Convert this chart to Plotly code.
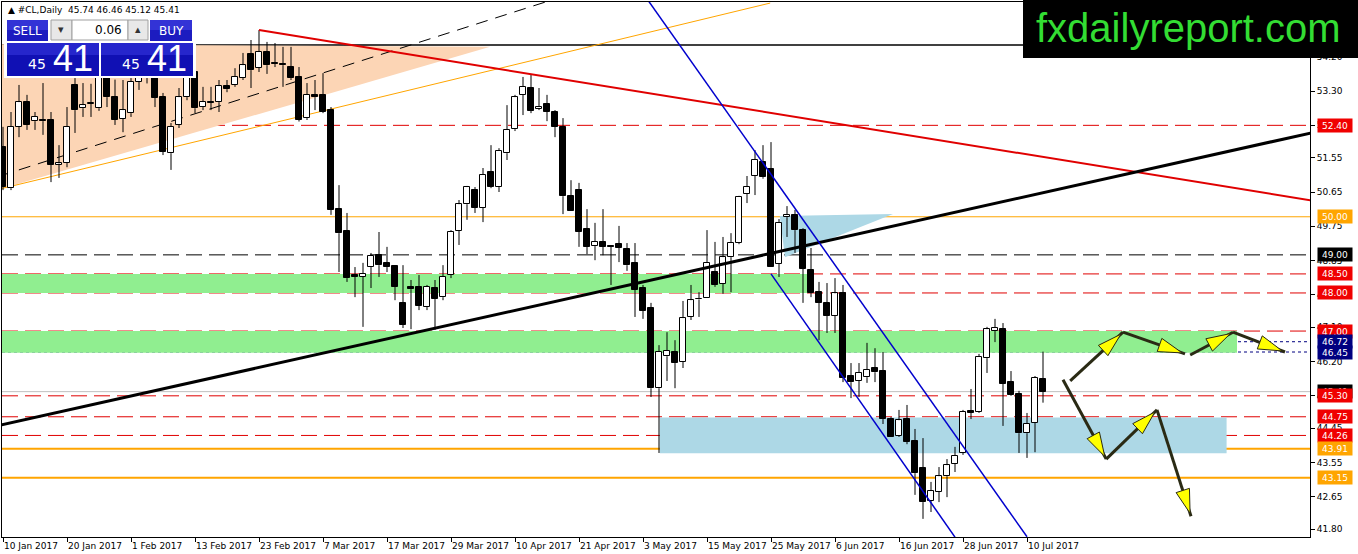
import math

import pandas as pd
import plotly.graph_objects as go

# trading days in the feed (no bar for Good Friday)
dates = [d for d in pd.bdate_range("2017-01-10", "2017-07-12") if d != pd.Timestamp("2017-04-14")]

opens = [
    51.83, 50.75, 52.36, 53.01, 52.51, 52.54, 52.54, 51.36, 51.41, 53.46,
    52.85, 52.96, 52.85, 53.85, 53.14, 52.57, 52.72, 53.54, 53.70, 53.85,
    53.14, 51.67, 52.41, 53.14, 53.80, 52.88, 53.01, 53.01, 53.43, 53.46,
    53.64, 54.27, 53.91, 54.33, 54.04, 54.01, 53.93, 53.67, 52.59, 53.20,
    53.20, 52.80, 50.20, 49.63, 48.47, 48.42, 48.68, 49.00, 48.79, 48.71,
    47.74, 48.16, 48.16, 47.63, 48.13, 47.89, 48.47, 49.63, 50.33, 50.70,
    50.23, 51.17, 50.78, 51.67, 52.30, 53.20, 53.38, 52.83, 52.96, 52.75,
    52.36, 50.54, 50.70, 49.68, 49.23, 49.34, 49.23, 49.28, 49.15, 48.79,
    48.13, 47.60, 45.50, 46.34, 46.45, 46.19, 47.37, 47.83, 47.87, 48.55,
    48.24, 48.94, 49.31, 50.60, 51.07, 51.44, 51.25, 48.76, 49.99, 50.05,
    49.65, 48.60, 48.02, 47.74, 47.40, 47.99, 45.82, 45.69, 45.79, 46.03,
    45.95, 44.69, 44.25, 44.69, 44.11, 43.40, 42.54, 42.78, 43.19, 43.51,
    43.80, 44.90, 44.88, 46.29, 47.00, 47.05, 45.66, 45.35, 44.32, 44.59,
    45.74,
]
highs = [
    52.36, 52.75, 53.46, 53.20, 52.75, 53.51, 52.75, 51.88, 52.88, 53.64,
    53.51, 53.49, 54.00, 54.00, 53.60, 53.59, 53.64, 54.00, 54.10, 54.05,
    53.25, 52.46, 53.38, 54.56, 53.93, 53.41, 53.41, 53.59, 53.59, 53.90,
    54.30, 54.64, 54.90, 54.59, 54.56, 54.46, 54.46, 53.93, 53.51, 53.59,
    53.77, 52.88, 50.83, 50.10, 48.68, 48.79, 49.05, 49.60, 49.21, 48.73,
    48.73, 48.34, 48.47, 48.21, 48.34, 48.73, 49.65, 50.44, 50.81, 50.78,
    51.28, 51.88, 51.80, 52.93, 53.20, 53.67, 53.72, 53.38, 53.20, 52.80,
    52.59, 50.96, 50.89, 50.20, 49.84, 50.20, 49.25, 49.76, 49.31, 49.31,
    48.21, 47.74, 46.63, 46.97, 46.76, 47.79, 48.21, 48.02, 49.65, 49.34,
    49.47, 49.57, 50.55, 51.07, 51.75, 51.88, 51.96, 49.94, 50.28, 50.18,
    49.70, 49.18, 48.29, 48.26, 48.39, 48.21, 46.16, 46.16, 46.69, 46.55,
    46.45, 44.74, 44.93, 45.06, 44.43, 44.19, 43.04, 43.43, 43.64, 43.96,
    44.93, 45.48, 46.40, 47.11, 47.32, 47.21, 45.95, 45.43, 44.85, 45.82,
    46.46,
]
lows = [
    50.70, 50.70, 52.09, 52.28, 52.28, 52.15, 50.91, 51.02, 51.30, 52.20,
    52.62, 52.62, 52.78, 52.88, 52.41, 52.22, 52.62, 53.33, 53.50, 52.88,
    51.62, 51.23, 52.33, 53.06, 52.72, 52.80, 52.80, 52.75, 53.27, 53.41,
    53.59, 53.38, 53.80, 53.75, 53.93, 53.41, 53.59, 52.50, 52.54, 52.80,
    52.72, 50.05, 48.55, 48.29, 47.89, 47.11, 48.13, 48.42, 48.55, 47.81,
    47.08, 47.05, 47.55, 47.55, 47.03, 47.81, 48.39, 49.26, 49.92, 50.10,
    49.86, 50.75, 50.65, 51.49, 52.25, 52.67, 52.72, 52.80, 52.51, 52.09,
    50.07, 50.15, 49.21, 49.02, 48.86, 48.99, 48.21, 48.81, 48.58, 47.37,
    47.32, 45.27, 43.80, 45.69, 45.50, 46.03, 47.29, 47.37, 47.87, 48.16,
    47.98, 48.02, 49.28, 50.36, 50.57, 51.00, 48.68, 48.42, 49.47, 49.05,
    47.74, 47.89, 46.76, 46.95, 46.95, 45.66, 45.24, 45.27, 45.64, 45.66,
    44.56, 44.22, 44.22, 44.03, 42.70, 42.07, 42.25, 42.51, 42.64, 43.30,
    43.75, 44.69, 44.85, 45.90, 46.71, 44.51, 45.30, 43.80, 43.67, 43.82,
    45.12,
]
closes = [
    50.78, 52.36, 53.01, 52.41, 52.62, 52.51, 51.36, 51.40, 52.36, 52.80,
    52.93, 52.99, 53.85, 53.14, 52.54, 52.80, 53.54, 53.64, 53.80, 53.12,
    51.70, 52.36, 53.14, 54.04, 52.85, 53.01, 52.99, 53.43, 53.35, 53.67,
    53.98, 53.85, 54.33, 53.98, 54.01, 53.98, 53.64, 52.54, 53.20, 53.14,
    52.75, 50.18, 49.57, 48.39, 48.42, 48.50, 48.97, 48.73, 48.68, 48.16,
    47.16, 48.10, 47.66, 48.16, 47.84, 48.42, 49.60, 50.33, 50.78, 50.23,
    51.10, 50.78, 51.73, 52.28, 53.14, 53.41, 52.78, 52.88, 52.75, 52.36,
    50.54, 50.15, 49.60, 49.21, 49.34, 49.21, 49.21, 49.18, 48.73, 48.08,
    47.53, 45.50, 46.45, 46.48, 46.16, 47.34, 47.81, 47.84, 48.79, 48.21,
    48.94, 49.31, 50.52, 50.78, 51.49, 51.04, 48.68, 49.84, 50.05, 49.65,
    48.63, 48.00, 47.74, 47.40, 47.99, 45.77, 45.66, 45.90, 45.98, 45.92,
    44.69, 44.22, 44.66, 44.09, 43.27, 42.51, 42.80, 43.19, 43.48, 43.72,
    44.88, 44.85, 46.32, 47.05, 47.08, 45.61, 45.32, 44.32, 44.56, 45.77,
    45.41,
]

tick_dates = [
    "2017-01-10", "2017-01-20", "2017-02-01", "2017-02-13", "2017-02-23", "2017-03-07",
    "2017-03-17", "2017-03-29", "2017-04-10", "2017-04-21", "2017-05-03", "2017-05-15",
    "2017-05-25", "2017-06-06", "2017-06-16", "2017-06-28", "2017-07-10",
]
price_ticks = [54.20, 53.30, 52.40, 51.55, 50.65, 49.75, 48.85, 47.95, 47.10,
               46.20, 45.30, 44.45, 43.55, 42.65, 41.80]

# horizontal levels
red_levels = [52.40, 48.50, 48.00, 47.00, 45.30, 44.75, 44.26]
orange_thin_level = 50.00
black_dash_level = 49.00
navy_levels = [46.72, 46.45]
orange_levels = [43.91, 43.15]
top_level = 54.51
bid = 45.41

# drawing objects, anchors as (bar number, price)
peach_triangle = [(-1.6, 54.53), (-1.6, 50.65), (60.9, 54.46)]
cyan_triangle = [(97.1, 50.02), (111.25, 50.07), (97.75, 48.94)]
green_zones = [(-1, 101.1, 48.00, 48.50), (-1, 154.25, 46.43, 47.00)]
blue_zone = (82.1, 152.95, 43.79, 44.73)
red_trend = [(32, 54.90), (165, 50.38)]
black_trend = [(-1, 44.50), (165, 52.27)]
orange_ray = [(-0.4, 50.73), (95.9, 55.61)]
dashed_mid = [(-0.4, 51.07), (68.6, 55.69)]
blue_channel = [[(80.6, 55.69), (128.0, 41.60)], [(96.0, 48.50), (119.0, 41.59)]]
arrow_legs = [
    [(133.4, 45.69), (140.0, 46.97)],
    [(140.0, 46.97), (147.75, 46.40)],
    [(148.4, 46.37), (153.75, 46.97)],
    [(153.75, 46.97), (160.25, 46.45)],
    [(132.5, 45.72), (137.9, 43.64)],
    [(137.9, 43.64), (144.25, 44.93)],
    [(144.25, 44.93), (148.5, 42.14)],
]

# right-axis price labels (value, background)
axis_tags = [
    (52.40, "#f00000"), (50.00, "#ffa500"), (49.00, "#000000"), (48.50, "#f00000"),
    (48.00, "#f00000"), (47.00, "#f00000"), (46.72, "#000080"), (46.45, "#000080"),
    (45.41, "#000000"), (45.30, "#f00000"), (44.75, "#f00000"), (44.26, "#f00000"),
    (43.91, "#ffa500"), (43.15, "#ffa500"),
]

W, H = 1358, 554
M_L, M_R, M_T, M_B = 2, 48, 2, 17
X_RANGE = [-0.125, 163.375]
Y_RANGE = [41.594, 55.6375]
PW, PH = W - M_L - M_R, H - M_T - M_B
PX_BAR = PW / (X_RANGE[1] - X_RANGE[0])
PX_USD = PH / (Y_RANGE[1] - Y_RANGE[0])
FONT = "DejaVu Sans"
RED = "#e00000"


def paper(xp, yp):
    """screen pixel -> paper coords"""
    return (xp - M_L) / PW, (H - M_B - yp) / PH


def head_path(p0, p1, length=24, half=7, back=3):
    """arrowhead triangle built in pixel space, returned in data coords"""
    x0, y0 = p0[0] * PX_BAR, p0[1] * PX_USD
    x1, y1 = p1[0] * PX_BAR, p1[1] * PX_USD
    d = math.hypot(x1 - x0, y1 - y0)
    ux, uy = (x1 - x0) / d, (y1 - y0) / d
    tx, ty = x1 - ux * back, y1 - uy * back
    bx, by = tx - ux * length, ty - uy * length
    pts = [(tx, ty), (bx - uy * half, by + ux * half), (bx + uy * half, by - ux * half)]
    return "M " + " L ".join(f"{x / PX_BAR},{y / PX_USD}" for x, y in pts) + " Z"


def tri_path(pts):
    return "M " + " L ".join(f"{b},{p}" for b, p in pts) + " Z"


bars = list(range(len(opens)))
fig = go.Figure()

# wicks (split so they never cross a body)
wx, wy = [], []
for i, o, h, l, c in zip(bars, opens, highs, lows, closes):
    wx += [i, i, None, i, i, None]
    wy += [h, max(o, c), None, min(o, c), l, None]
fig.add_trace(go.Scatter(x=wx, y=wy, mode="lines", line=dict(color="black", width=1),
                         hoverinfo="skip", showlegend=False))

fig.add_trace(go.Bar(
    x=bars,
    base=[min(o, c) for o, c in zip(opens, closes)],
    y=[max(abs(c - o), 0.015) for o, c in zip(opens, closes)],
    width=0.72,
    marker=dict(color=["white" if c >= o else "black" for o, c in zip(opens, closes)],
                line=dict(color="black", width=1)),
    hoverinfo="skip", showlegend=False,
))

shapes = []
# filled zones
shapes.append(dict(type="path", path=tri_path(peach_triangle), fillcolor="#fcd5b5",
                   line=dict(width=0), layer="below"))
for b0, b1, lo, hi in green_zones:
    shapes.append(dict(type="rect", x0=b0, x1=b1, y0=lo, y1=hi, fillcolor="#90ee90",
                       line=dict(width=0), layer="below"))
b0, b1, lo, hi = blue_zone
shapes.append(dict(type="rect", x0=b0, x1=b1, y0=lo, y1=hi, fillcolor="#add8e6",
                   line=dict(width=0), layer="below"))
shapes.append(dict(type="path", path=tri_path(cyan_triangle), fillcolor="#add8e6",
                   line=dict(width=0), layer="below"))


def hline(y, color, width=1, dash="solid"):
    return dict(type="line", xref="paper", x0=0, x1=1, y0=y, y1=y,
                line=dict(color=color, width=width, dash=dash), layer="below")


for lv in red_levels:
    shapes.append(hline(lv, RED, 1, "16px,7px"))
shapes.append(hline(orange_thin_level, "#ffa500", 1))
shapes.append(hline(black_dash_level, "black", 1, "16px,7px"))
for lv in navy_levels:
    shapes.append(hline(lv, "#000080", 1, "3px,3px"))
for lv in orange_levels:
    shapes.append(hline(lv, "#ffa500", 2))
shapes.append(hline(top_level, "black", 1.5))
shapes.append(hline(bid, "#c0c0c0", 1))


def seg(pts, color, width, dash="solid", layer="above"):
    (xa, ya), (xb, yb) = pts
    return dict(type="line", x0=xa, y0=ya, x1=xb, y1=yb,
                line=dict(color=color, width=width, dash=dash), layer=layer)


shapes.append(seg(orange_ray, "#ffa500", 1, layer="below"))
shapes.append(seg(dashed_mid, "black", 1, "12px,8px", layer="below"))
shapes.append(seg(red_trend, "#e00000", 2))
shapes.append(seg(black_trend, "black", 3))
for leg in blue_channel:
    shapes.append(seg(leg, "#0000cd", 1.5))
for leg in arrow_legs:
    shapes.append(seg(leg, "#2a2a14", 3))
for leg in arrow_legs:
    shapes.append(dict(type="path", path=head_path(*leg), fillcolor="#ffff00",
                       line=dict(color="#2a2a14", width=1)))

# trading panel + logo (screen furniture)
def box(x0, y0, x1, y1, fill, line_color=None):
    a, b = paper(x0, y0)
    c, d = paper(x1, y1)
    return dict(type="rect", xref="paper", yref="paper", x0=a, y0=b, x1=c, y1=d,
                fillcolor=fill, line=dict(width=1 if line_color else 0, color=line_color or fill),
                layer="above")


shapes += [
    box(4, 17, 196, 78, "white"),
    box(7, 20, 48, 41, "#1c1cc0"), box(7, 20, 48, 30, "#3333d6"),
    box(150, 20, 192, 41, "#1c1cc0"), box(150, 20, 192, 30, "#3333d6"),
    box(51, 20, 72, 40, "#e8e8e8", "#a0a0a0"),
    box(72, 20, 128, 40, "white", "#a0a0a0"),
    box(128, 20, 148, 40, "#e8e8e8", "#a0a0a0"),
    box(7, 43, 99, 76, "#1010b4"), box(7, 43, 99, 55, "#2626cc"),
    box(101, 43, 193, 76, "#1010b4"), box(101, 43, 193, 55, "#2626cc"),
    box(1023, -3, 1361, 58, "black"),
]


def note(xp, yp, text, size, color, family=FONT, anchor="center"):
    a, b = paper(xp, yp)
    return dict(xref="paper", yref="paper", x=a, y=b, text=text, showarrow=False,
                xanchor=anchor, yanchor="middle", font=dict(size=size, color=color, family=family))


annotations = [
    note(6, 10, "▲ #CL,Daily  45.74 46.46 45.12 45.41", 9, "black", anchor="left"),
    note(27, 31, "SELL", 12, "white"), note(171, 31, "BUY", 12, "white"),
    note(61, 30, "▾", 11, "#333333"), note(138, 30, "▴", 11, "#333333"),
    note(124, 30, "0.06", 12, "black", anchor="right"),
    note(48, 64, "45", 14, "white", anchor="right"), note(51, 59, "41", 36, "white", "Liberation Sans", "left"),
    note(142, 64, "45", 14, "white", anchor="right"), note(145, 59, "41", 36, "white", "Liberation Sans", "left"),
    note(1188, 28, "fxdailyreport.com", 40, "#33dd33", "Liberation Sans"),
]
for val, bg in axis_tags:
    annotations.append(dict(xref="paper", yref="y", x=1, y=val, xanchor="left", xshift=7,
                            text=f"{val:.2f}", showarrow=False, bgcolor=bg, width=32, height=11,
                            borderpad=1, font=dict(size=9, color="white", family=FONT)))

tick_bars = [dates.index(pd.Timestamp(d)) for d in tick_dates]
tick_text = [f"{pd.Timestamp(d).day} {pd.Timestamp(d):%b %Y}" for d in tick_dates]

fig.update_layout(
    width=W, height=H, autosize=False,
    margin=dict(l=M_L, r=M_R, t=M_T, b=M_B, autoexpand=False),
    paper_bgcolor="white", plot_bgcolor="white",
    barmode="overlay", bargap=0, showlegend=False,
    shapes=shapes, annotations=annotations,
    xaxis=dict(range=X_RANGE, showgrid=False, zeroline=False, showline=True, mirror=True,
               linecolor="black", linewidth=1, ticks="outside", ticklen=4, tickcolor="black",
               tickvals=tick_bars, ticktext=tick_text, ticklabelposition="outside right",
               tickangle=0, automargin=False,
               tickfont=dict(size=9, color="black", family=FONT), fixedrange=True),
    yaxis=dict(range=Y_RANGE, side="right", showgrid=False, zeroline=False, showline=True,
               mirror=True, linecolor="black", linewidth=1, ticks="outside", ticklen=4,
               tickcolor="black", tickvals=price_ticks, ticktext=[f"{v:.2f}" for v in price_ticks],
               automargin=False,
               tickfont=dict(size=9, color="black", family=FONT), fixedrange=True),
)

# the page's default body margin would push the chart 8px off the window
fig.write_html("out.html", config={"displayModeBar": False},
               post_script="document.body.style.margin='0';")
